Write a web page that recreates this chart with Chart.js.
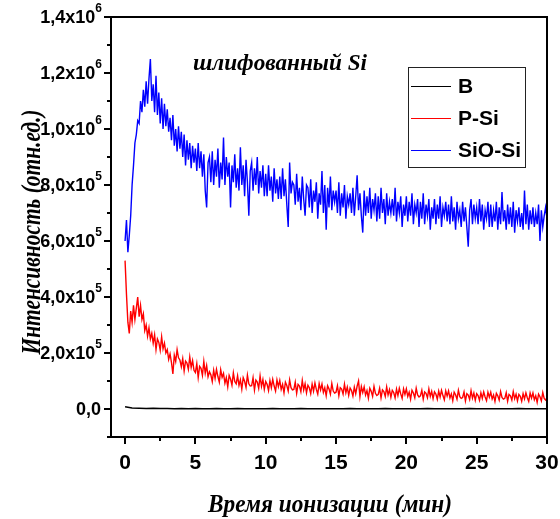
<!DOCTYPE html>
<html>
<head>
<meta charset="utf-8">
<script src="https://cdn.jsdelivr.net/npm/chart.js"></script>
<style>
  body { margin: 0; background: #fff; }
  #wrap { width: 560px; height: 519px; }
</style>
</head>
<body>
<div id="wrap"><canvas id="myChart"></canvas></div>
<script>
// data (intensity in thousands, time step in minutes)
const timeStep = 0.1;
const bStep = 0.5;

const seriesNames = ["B", "P-Si", "SiO-Si"];
const seriesColors = ["#000000", "#ff0000", "#0000ff"];

const sioSi = [
  600, 675, 560, 620, 690, 800, 870, 950, 980, 1030,
  1020, 1100, 1060, 1140, 1080, 1170, 1090, 1180, 1250, 1100,
  1160, 1060, 1190, 1050, 1130, 1020, 1110, 1000, 1090, 1010,
  1070, 990, 1040, 960, 1050, 940, 1000, 920, 1010, 930,
  990, 900, 980, 870, 960, 890, 950, 860, 940, 880,
  930, 850, 950, 860, 920, 830, 910, 780, 720, 880,
  900, 810, 920, 800, 890, 830, 930, 790, 880, 820,
  970, 800, 900, 830, 880, 720, 870, 810, 910, 790,
  860, 780, 935, 800, 870, 760, 890, 810, 690, 850,
  880, 780, 860, 800, 900, 770, 850, 790, 870, 760,
  840, 760, 870, 780, 830, 740, 860, 770, 820, 750,
  830, 750, 860, 760, 820, 730, 650, 880, 770, 810,
  800, 730, 840, 740, 790, 710, 830, 750, 690, 800,
  790, 720, 820, 700, 780, 740, 810, 680, 770, 730,
  850, 700, 800, 640, 790, 720, 830, 710, 780, 740,
  780, 700, 810, 690, 770, 720, 800, 680, 760, 730,
  770, 700, 790, 690, 760, 835, 710, 770, 690, 630,
  780, 690, 760, 700, 790, 680, 750, 710, 770, 670,
  760, 680, 790, 700, 750, 660, 770, 690, 740, 700,
  750, 690, 790, 670, 740, 700, 760, 650, 730, 690,
  760, 670, 740, 690, 770, 660, 730, 700, 750, 650,
  740, 680, 770, 660, 730, 690, 750, 640, 720, 680,
  750, 660, 730, 680, 760, 650, 720, 690, 740, 670,
  730, 660, 760, 670, 720, 640, 740, 680, 710, 650,
  740, 670, 720, 650, 580, 710, 750, 660, 730, 680,
  720, 660, 750, 670, 730, 640, 710, 680, 740, 650,
  730, 650, 710, 670, 740, 640, 720, 660, 775, 670,
  710, 640, 730, 660, 720, 650, 740, 630, 710, 670,
  720, 650, 700, 640, 780, 660, 730, 640, 710, 660,
  720, 650, 700, 660, 730, 600, 710, 650, 690, 720,
  680
];

const pSi = [
  530, 410, 310, 270, 350, 310, 370, 320, 360, 400,
  330, 370, 320, 340, 280, 300, 260, 290, 250, 270,
  235, 265, 212, 250, 238, 210, 258, 215, 235, 200,
  212, 177, 197, 166, 125, 192, 170, 212, 183, 175,
  151, 180, 136, 171, 164, 142, 186, 149, 173, 138,
  130, 162, 112, 152, 145, 120, 170, 128, 155, 115,
  133, 122, 98, 138, 109, 142, 116, 96, 140, 113,
  127, 92, 112, 79, 120, 107, 85, 129, 98, 90,
  119, 84, 104, 71, 112, 99, 77, 121, 90, 82,
  83, 112, 68, 103, 96, 74, 118, 81, 105, 70,
  98, 88, 66, 102, 76, 106, 82, 64, 104, 80,
  102, 70, 88, 58, 96, 84, 64, 104, 76, 68,
  70, 96, 56, 88, 82, 62, 102, 68, 90, 58,
  85, 76, 55, 89, 64, 93, 70, 53, 91, 68,
  89, 59, 76, 47, 83, 72, 53, 91, 64, 57,
  60, 83, 47, 76, 71, 53, 89, 58, 78, 49,
  75, 66, 46, 78, 55, 82, 100, 44, 80, 59,
  79, 50, 66, 39, 74, 63, 45, 81, 56, 48,
  52, 74, 40, 68, 62, 45, 79, 50, 69, 42,
  67, 59, 40, 71, 48, 74, 54, 38, 72, 52,
  72, 45, 60, 35, 67, 57, 40, 74, 50, 43,
  47, 67, 35, 61, 56, 40, 72, 45, 63, 37,
  61, 53, 35, 64, 43, 67, 48, 33, 65, 46,
  65, 39, 54, 30, 60, 51, 35, 67, 44, 38,
  41, 61, 29, 55, 50, 34, 66, 39, 57, 31,
  55, 48, 31, 58, 38, 61, 43, 30, 60, 42,
  60, 36, 50, 27, 56, 47, 32, 62, 41, 35,
  38, 58, 28, 52, 47, 32, 62, 37, 53, 29,
  52, 45, 28, 55, 36, 58, 40, 27, 57, 39,
  57, 33, 47, 24, 53, 44, 29, 59, 38, 32,
  40
];

const bVals = [
  8, 4, 3, 2, 3, 2, 2, 1, 2, 1,
  2, 1, 1, 2, 1, 1, 2, 1, 1, 1,
  1, 2, 1, 1, 1, 2, 1, 1, 1, 1,
  1, 1, 2, 1, 1, 1, 1, 2, 1, 1,
  1, 1, 1, 2, 1, 1, 1, 1, 1, 2,
  1, 1, 1, 1, 1, 1, 2, 1, 1, 1,
  1
];

// tick labels
const xTicks = [0, 5, 10, 15, 20, 25, 30];
const xMinor = [2.5, 7.5, 12.5, 17.5, 22.5, 27.5];
const yTicks = [0, 200, 400, 600, 800, 1000, 1200, 1400];
const yMinor = [-100, 100, 300, 500, 700, 900, 1100, 1300];
const yTickMant = ["0,0", "2,0x10", "4,0x10", "6,0x10", "8,0x10", "1,0x10", "1,2x10", "1,4x10"];
const yTickExp = ["", "5", "5", "5", "5", "6", "6", "6"];

const xTitle = "Время ионизации (мин)";
const yTitle = "Интенсивность (отн.ед.)";
const noteText = "шлифованный Si";

function toPoints(vals, step) {
  return vals.map((v, i) => ({ x: i * step, y: v }));
}

// draw text squeezed to a given width
function fitText(ctx, text, x, y, width, font, angle) {
  ctx.save();
  ctx.font = font;
  const w = ctx.measureText(text).width;
  ctx.translate(x, y);
  if (angle) ctx.rotate(angle);
  ctx.scale(width / w, 1);
  ctx.textAlign = "center";
  ctx.textBaseline = "alphabetic";
  ctx.fillText(text, 0, 0);
  ctx.restore();
}

const axesPlugin = {
  id: "originAxes",
  afterDraw(chart) {
    const ctx = chart.ctx;
    const xs = chart.scales.x;
    const ys = chart.scales.y;
    const a = chart.chartArea;
    ctx.save();
    ctx.fillStyle = "#000";
    ctx.strokeStyle = "#000";

    // frame
    ctx.lineWidth = 2;
    ctx.strokeRect(a.left, a.top, a.right - a.left, a.bottom - a.top);

    // ticks
    ctx.beginPath();
    xTicks.forEach(v => {
      const px = Math.round(xs.getPixelForValue(v));
      ctx.moveTo(px, a.bottom); ctx.lineTo(px, a.bottom + 7);
    });
    xMinor.forEach(v => {
      const px = Math.round(xs.getPixelForValue(v));
      ctx.moveTo(px, a.bottom); ctx.lineTo(px, a.bottom + 4);
    });
    yTicks.forEach(v => {
      const py = Math.round(ys.getPixelForValue(v));
      ctx.moveTo(a.left, py); ctx.lineTo(a.left - 7, py);
    });
    yMinor.forEach(v => {
      const py = Math.round(ys.getPixelForValue(v));
      ctx.moveTo(a.left, py); ctx.lineTo(a.left - 4, py);
    });
    ctx.stroke();

    // x tick labels
    ctx.font = "bold 21px 'Liberation Sans', Arial, sans-serif";
    ctx.textAlign = "center";
    ctx.textBaseline = "middle";
    xTicks.forEach(v => {
      ctx.fillText(String(v), xs.getPixelForValue(v), a.bottom + 26);
    });

    // y tick labels with superscript
    const labRight = a.left - 9;
    yTicks.forEach((v, i) => {
      const py = ys.getPixelForValue(v);
      ctx.textBaseline = "middle";
      ctx.textAlign = "right";
      let right = labRight;
      if (yTickExp[i]) {
        ctx.font = "bold 12px 'Liberation Sans', Arial, sans-serif";
        const ew = ctx.measureText(yTickExp[i]).width;
        ctx.fillText(yTickExp[i], labRight, py - 8);
        right = labRight - ew;
      } else {
        right = labRight - 1;
      }
      ctx.font = "bold 18px 'Liberation Sans', Arial, sans-serif";
      ctx.fillText(yTickMant[i], right, py + 1);
    });

    // axis titles and note
    const serif = "'Liberation Serif', 'Times New Roman', serif";
    ctx.fillStyle = "#000";
    fitText(ctx, xTitle, 330, 512, 244, "bold italic 26px " + serif);
    fitText(ctx, yTitle, 40, 232, 245, "bold italic 28px " + serif, -Math.PI / 2);
    fitText(ctx, noteText, 280, 70, 174, "bold italic 24px " + serif);

    // legend box
    ctx.lineWidth = 1;
    ctx.strokeStyle = "#222";
    ctx.strokeRect(408.5, 67.5, 117, 100);
    const rows = [86, 118, 150];
    ctx.font = "bold 21px 'Liberation Sans', Arial, sans-serif";
    ctx.textAlign = "left";
    ctx.textBaseline = "middle";
    seriesNames.forEach((name, i) => {
      ctx.strokeStyle = seriesColors[i];
      ctx.beginPath();
      ctx.moveTo(411, rows[i] + 0.5);
      ctx.lineTo(451, rows[i] + 0.5);
      ctx.stroke();
      ctx.fillStyle = "#000";
      ctx.fillText(name, 458, rows[i] + 1);
    });
    ctx.restore();
  }
};

new Chart("myChart", {
  type: "line",
  data: {
    datasets: [
      { label: seriesNames[0], data: toPoints(bVals, bStep), borderColor: seriesColors[0], borderWidth: 1.5 },
      { label: seriesNames[1], data: toPoints(pSi, timeStep), borderColor: seriesColors[1] },
      { label: seriesNames[2], data: toPoints(sioSi, timeStep), borderColor: seriesColors[2] }
    ]
  },
  options: {
    responsive: true,
    maintainAspectRatio: false,
    animation: false,
    devicePixelRatio: 1,
    layout: { padding: { left: 111, top: 17, right: 13, bottom: 82 } },
    elements: {
      point: { radius: 0 },
      line: { borderWidth: 1.4, tension: 0 }
    },
    scales: {
      x: { type: "linear", min: -1, max: 30, display: false },
      y: { type: "linear", min: -100, max: 1400, display: false }
    },
    plugins: {
      legend: { display: false },
      title: { display: false },
      tooltip: { enabled: false }
    }
  },
  plugins: [axesPlugin]
});
</script>
</body>
</html>
